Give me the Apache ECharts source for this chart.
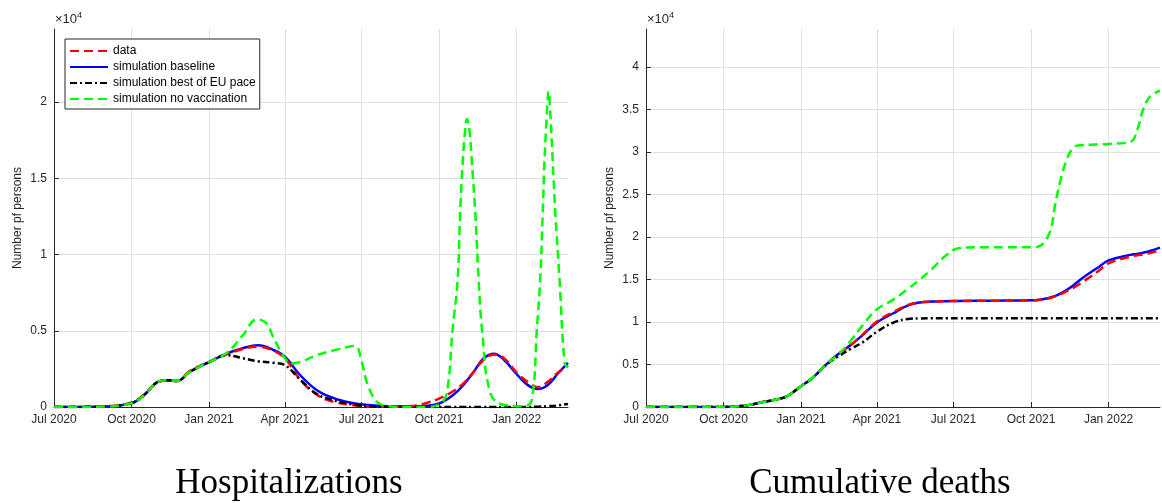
<!DOCTYPE html>
<html>
<head>
<meta charset="utf-8">
<title>Hospitalizations and cumulative deaths</title>
<script src="https://cdn.jsdelivr.net/npm/echarts@6/dist/echarts.min.js"></script>
<style>
html, body { margin: 0; padding: 0; background: #fff; }
#main { width: 1162px; height: 503px; }
</style>
</head>
<body>
<div id="main"></div>
<script>
// 图例名称
var seriesNames = ['data', 'simulation baseline', 'simulation best of EU pace', 'simulation no vaccination'];

// 刻度
var quarterTicks = ['2020-07-01', '2020-10-01', '2021-01-01', '2021-04-01', '2021-07-01', '2021-10-01', '2022-01-01'];
var hospTicks = [0, 5000, 10000, 15000, 20000];
var deathTicks = [0, 5000, 10000, 15000, 20000, 25000, 30000, 35000, 40000];
var monthNames = ['Jan', 'Feb', 'Mar', 'Apr', 'May', 'Jun', 'Jul', 'Aug', 'Sep', 'Oct', 'Nov', 'Dec'];

// 住院人数
var hospDates = ['2020-07-01', '2020-07-15', '2020-08-01', '2020-08-15', '2020-09-01', '2020-09-15', '2020-10-01',
    '2020-10-10', '2020-10-20', '2020-11-01', '2020-11-12', '2020-11-24', '2020-12-09', '2021-01-01', '2021-01-22',
    '2021-02-10', '2021-02-28', '2021-03-18', '2021-04-01', '2021-04-19', '2021-05-09', '2021-05-28', '2021-06-17',
    '2021-07-08', '2021-08-01', '2021-09-01', '2021-09-15', '2021-10-01', '2021-10-18', '2021-10-30', '2021-11-11',
    '2021-11-23', '2021-12-05', '2021-12-17', '2022-01-02', '2022-01-14', '2022-01-26', '2022-02-07', '2022-02-19',
    '2022-03-03'];
var hospData = [0, 0, 20, 40, 60, 100, 300, 550, 1050, 1600, 1750, 1700, 2350, 2950, 3450, 3800, 3950, 3700, 3200,
    1800, 800, 350, 150, 50, 30, 80, 250, 550, 1050, 1550, 2300, 3100, 3450, 3200, 2200, 1650, 1300, 1650, 2250, 2700];
var hospBaseline = [0, 0, 0, 10, 30, 80, 250, 500, 1000, 1650, 1750, 1700, 2300, 2950, 3500, 3850, 4050, 3750, 3300,
    2100, 1100, 600, 300, 130, 50, 40, 80, 230, 800, 1450, 2300, 3200, 3500, 3100, 2100, 1450, 1180, 1450, 2200, 2900];
var hospBestEU = [0, 0, 0, 10, 30, 80, 250, 500, 1000, 1650, 1750, 1700, 2300, 2950, 3400, 3200, 3000, 2900, 2750,
    1800, 850, 450, 200, 50, 10, 0, 0, 0, 0, 0, 0, 0, 0, 0, 0, 0, 20, 50, 100, 200];

var hospNoVacDates = ['2020-07-01', '2020-08-01', '2020-09-01', '2020-09-15', '2020-10-01', '2020-10-10', '2020-10-20',
    '2020-11-01', '2020-11-12', '2020-11-24', '2020-12-09', '2021-01-01', '2021-01-22', '2021-02-10', '2021-02-27',
    '2021-03-10', '2021-03-18', '2021-04-01', '2021-04-09', '2021-04-19', '2021-05-09', '2021-05-28', '2021-06-23',
    '2021-07-01', '2021-07-08', '2021-07-20', '2021-08-03', '2021-08-20', '2021-09-15', '2021-10-01', '2021-10-10',
    '2021-10-17', '2021-10-23', '2021-10-26', '2021-10-29', '2021-11-01', '2021-11-03', '2021-11-06', '2021-11-09',
    '2021-11-13', '2021-11-17', '2021-11-21', '2021-12-01', '2021-12-17', '2022-01-10', '2022-01-19', '2022-01-25',
    '2022-01-29', '2022-02-01', '2022-02-03', '2022-02-06', '2022-02-08', '2022-02-10', '2022-02-13', '2022-02-16',
    '2022-02-21', '2022-02-27', '2022-03-03'];
var hospNoVac = [0, 0, 30, 80, 250, 500, 1000, 1650, 1750, 1700, 2300, 2950, 3550, 4700, 5750, 5500, 4600, 3200,
    2850, 2950, 3400, 3700, 4000, 3000, 1500, 300, 50, 0, 0, 150, 900, 5050, 8330, 12700, 16000, 18200, 18900, 18200,
    16000, 12700, 8330, 5050, 900, 130, 50, 460, 5050, 8330, 12700, 16000, 19300, 20700, 19300, 16000, 12700, 8330,
    2900, 2600];

// 累计死亡
var deathDates = ['2020-07-01', '2020-08-01', '2020-09-01', '2020-10-01', '2020-10-15', '2020-11-01', '2020-11-15',
    '2020-12-01', '2020-12-15', '2021-01-01', '2021-01-15', '2021-02-01', '2021-02-15', '2021-03-01', '2021-03-15',
    '2021-04-01', '2021-04-20', '2021-05-08', '2021-05-22', '2021-06-05', '2021-06-23', '2021-07-08', '2021-08-01',
    '2021-09-01', '2021-10-01', '2021-10-09', '2021-10-23', '2021-10-29', '2021-11-04', '2021-11-12', '2021-11-20',
    '2021-11-28', '2021-12-10', '2021-12-20', '2022-01-01', '2022-01-27', '2022-02-04', '2022-02-11', '2022-02-19',
    '2022-03-03'];
var deathData = [0, 0, 0, 0, 50, 250, 550, 850, 1250, 2450, 3450, 5100, 6300, 7300, 8500, 10050, 11150, 12000,
    12300, 12400, 12450, 12470, 12490, 12510, 12550, 12600, 12800, 13000, 13200, 13600, 14000, 14500, 15300, 16000,
    16900, 17700, 17850, 17950, 18100, 18450];
var deathBaseline = [0, 0, 0, 0, 50, 250, 550, 850, 1250, 2450, 3450, 5100, 6300, 7300, 8450, 9950, 11000, 11950,
    12300, 12400, 12450, 12480, 12500, 12520, 12550, 12600, 12850, 13050, 13300, 13750, 14300, 14950, 15800, 16450,
    17250, 17900, 18000, 18150, 18350, 18750];
var deathBestEU = [0, 0, 0, 0, 50, 250, 550, 850, 1250, 2450, 3450, 5050, 6000, 6850, 7600, 8850, 9900, 10350,
    10420, 10440, 10450, 10450, 10450, 10450, 10450, 10450, 10450, 10450, 10450, 10450, 10450, 10450, 10450, 10450,
    10450, 10450, 10450, 10450, 10450, 10450];
var deathNoVac = [0, 0, 0, 0, 50, 250, 550, 850, 1250, 2450, 3450, 5100, 6250, 7800, 9600, 11500, 12600, 13900,
    15000, 16200, 17900, 18700, 18800, 18800, 18800, 18850, 20500, 23500, 26300, 29000, 30500, 30800, 30850, 30900,
    30950, 31200, 32600, 35000, 36500, 37200];

// 日期字符串 -> UTC 时间戳
function toTime(d) {
    return new Date(d + 'T00:00:00Z').getTime();
}

function pairs(dates, vals) {
    return dates.map(function (d, i) { return [toTime(d), vals[i]]; });
}

var axisColor = '#262626';
var gridColor = '#dfdfdf';
var sansFont = 'Liberation Sans, Arial, Helvetica, sans-serif';

var styles = {
    'data': {color: '#ff0000', type: [9, 5], z: 3},
    'simulation baseline': {color: '#0000ff', type: 'solid', z: 2},
    'simulation best of EU pace': {color: '#000000', type: [7, 3, 2, 3], z: 4},
    'simulation no vaccination': {color: '#00ff00', type: [9, 5], z: 5}
};

function makeSeries(name, idx, data) {
    var s = styles[name];
    return {
        name: name,
        type: 'line',
        xAxisIndex: idx,
        yAxisIndex: idx,
        showSymbol: false,
        symbol: 'none',
        smooth: 0.4,
        z: s.z,
        color: s.color,
        lineStyle: {color: s.color, width: 2.5, type: s.type},
        data: data
    };
}

var tickTimes = quarterTicks.map(toTime);

function makeXAxis(idx) {
    return {
        type: 'value',
        gridIndex: idx,
        min: toTime('2020-07-01'),
        max: toTime('2022-03-03'),
        axisLine: {show: true, onZero: false, lineStyle: {color: axisColor, width: 1}},
        axisTick: {show: true, inside: true, length: 5, customValues: tickTimes, lineStyle: {color: axisColor}},
        axisLabel: {
            customValues: tickTimes,
            color: axisColor,
            fontSize: 12,
            fontFamily: sansFont,
            margin: 7,
            formatter: function (v) {
                var d = new Date(v);
                return monthNames[d.getUTCMonth()] + ' ' + d.getUTCFullYear();
            }
        },
        splitLine: {show: true, lineStyle: {color: gridColor, width: 1}}
    };
}

function makeYAxis(idx, max, ticks) {
    return {
        type: 'value',
        gridIndex: idx,
        min: 0,
        max: max,
        name: 'Number pf persons',
        nameLocation: 'middle',
        nameGap: 30,
        nameRotate: 90,
        nameTextStyle: {color: axisColor, fontSize: 12, fontFamily: sansFont},
        axisLine: {show: true, lineStyle: {color: axisColor, width: 1}},
        axisTick: {show: true, inside: true, length: 5, customValues: ticks, lineStyle: {color: axisColor}},
        axisLabel: {
            customValues: ticks,
            color: axisColor,
            fontSize: 12,
            fontFamily: sansFont,
            margin: 7,
            formatter: function (v) { return String(v / 10000); }
        },
        splitLine: {show: true, lineStyle: {color: gridColor, width: 1}}
    };
}

function expLabel(x) {
    return {
        type: 'text',
        x: x,
        y: 11,
        style: {
            text: '{a|×10}{b|4}',
            rich: {
                a: {fontSize: 13, fontFamily: sansFont, fill: axisColor},
                b: {fontSize: 9, fontFamily: sansFont, fill: axisColor, padding: [0, 0, 7, 0]}
            }
        }
    };
}

function caption(x, text) {
    return {
        type: 'text',
        x: x,
        y: 484,
        style: {
            text: text,
            align: 'center',
            verticalAlign: 'middle',
            font: '35px "Liberation Serif", "Times New Roman", serif',
            fill: '#000'
        }
    };
}

var chart = echarts.init(document.getElementById('main'), null, {renderer: 'canvas'});

var option = {
    backgroundColor: '#ffffff',
    animation: false,
    grid: [
        {left: 54, top: 29, width: 514, height: 378},
        {left: 646, top: 29, width: 514, height: 378}
    ],
    legend: {
        data: seriesNames,
        orient: 'vertical',
        left: 65,
        top: 39,
        itemWidth: 38,
        itemHeight: 14,
        itemGap: 2,
        padding: [5, 4, 3, 4],
        backgroundColor: '#ffffff',
        borderColor: axisColor,
        borderWidth: 1,
        borderRadius: 0,
        itemStyle: {opacity: 0},
        textStyle: {color: '#000', fontSize: 12, fontFamily: sansFont, lineHeight: 14, height: 14},
        selectedMode: false
    },
    xAxis: [makeXAxis(0), makeXAxis(1)],
    yAxis: [makeYAxis(0, 24800, hospTicks), makeYAxis(1, 44470, deathTicks)],
    graphic: [expLabel(55), expLabel(647), caption(289, 'Hospitalizations'), caption(880, 'Cumulative deaths')],
    series: [
        makeSeries('simulation baseline', 0, pairs(hospDates, hospBaseline)),
        makeSeries('data', 0, pairs(hospDates, hospData)),
        makeSeries('simulation best of EU pace', 0, pairs(hospDates, hospBestEU)),
        makeSeries('simulation no vaccination', 0, pairs(hospNoVacDates, hospNoVac)),
        makeSeries('simulation baseline', 1, pairs(deathDates, deathBaseline)),
        makeSeries('data', 1, pairs(deathDates, deathData)),
        makeSeries('simulation best of EU pace', 1, pairs(deathDates, deathBestEU)),
        makeSeries('simulation no vaccination', 1, pairs(deathDates, deathNoVac))
    ]
};

chart.setOption(option);
</script>
</body>
</html>
